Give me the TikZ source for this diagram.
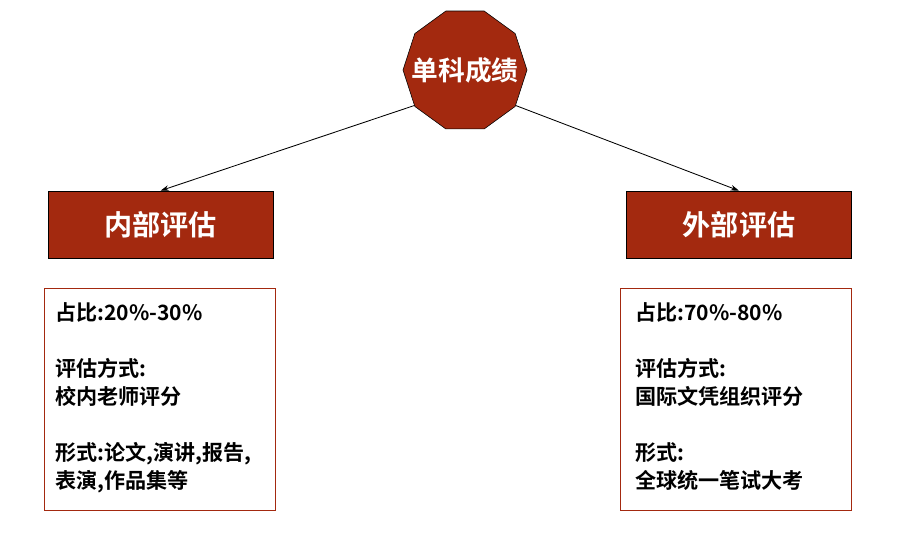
\documentclass[tikz,border=0pt]{standalone}
\usepackage{fontspec}
\setmainfont{Noto Sans CJK SC}[BoldFont={Noto Sans CJK SC Bold}]
\usetikzlibrary{shapes.geometric,arrows.meta}
\definecolor{brick}{HTML}{A3290F}
\tikzset{
  hdr/.style={draw=black,fill=brick,text=white,font=\bfseries\fontsize{20}{22}\selectfont,minimum width=225*0.025cm,minimum height=67*0.025cm,inner sep=0pt},
  info/.style={draw=brick,line width=0.5pt,minimum width=231*0.025cm,minimum height=222*0.025cm,inner sep=0pt},
  txt/.style={anchor=north west,align=left,font=\bfseries\fontsize{15}{20}\selectfont,inner sep=0pt},
  conn/.style={-{Stealth[length=6pt,width=4pt]},line width=0.6pt}
}
\begin{document}
\begin{tikzpicture}[x=0.025cm,y=-0.025cm]
\useasboundingbox (0,0) rectangle (900,550);
\node[regular polygon,regular polygon sides=10,shape border rotate=0,draw=black,fill=brick,minimum size=124*0.025cm,inner sep=0pt] (top) at (465,70) {};
\node[text=white,font=\bfseries\fontsize{19}{21}\selectfont,inner sep=0pt] (toptxt) at (top.center) {单科成绩};
\node[hdr] (L) at (160.5,224.5) {内部评估};
\node[hdr] (R) at (739,224.5) {外部评估};
\draw[conn] (top.215) -- (L.north);
\draw[conn] (top.-35) -- (R.north);
\node[info] (LB) at (159.5,399) {};
\node[info] (RB) at (736,399) {};
\node[txt] (lt) at (55,302) {占比:20\%-30\%\\[20pt]评估方式:\\校内老师评分\\[20pt]形式:论文,演讲,报告,\\表演,作品集等};
\node[txt] (rt) at (635,302) {占比:70\%-80\%\\[20pt]评估方式:\\国际文凭组织评分\\[20pt]形式:\\全球统一笔试大考};
\end{tikzpicture}
\end{document}
